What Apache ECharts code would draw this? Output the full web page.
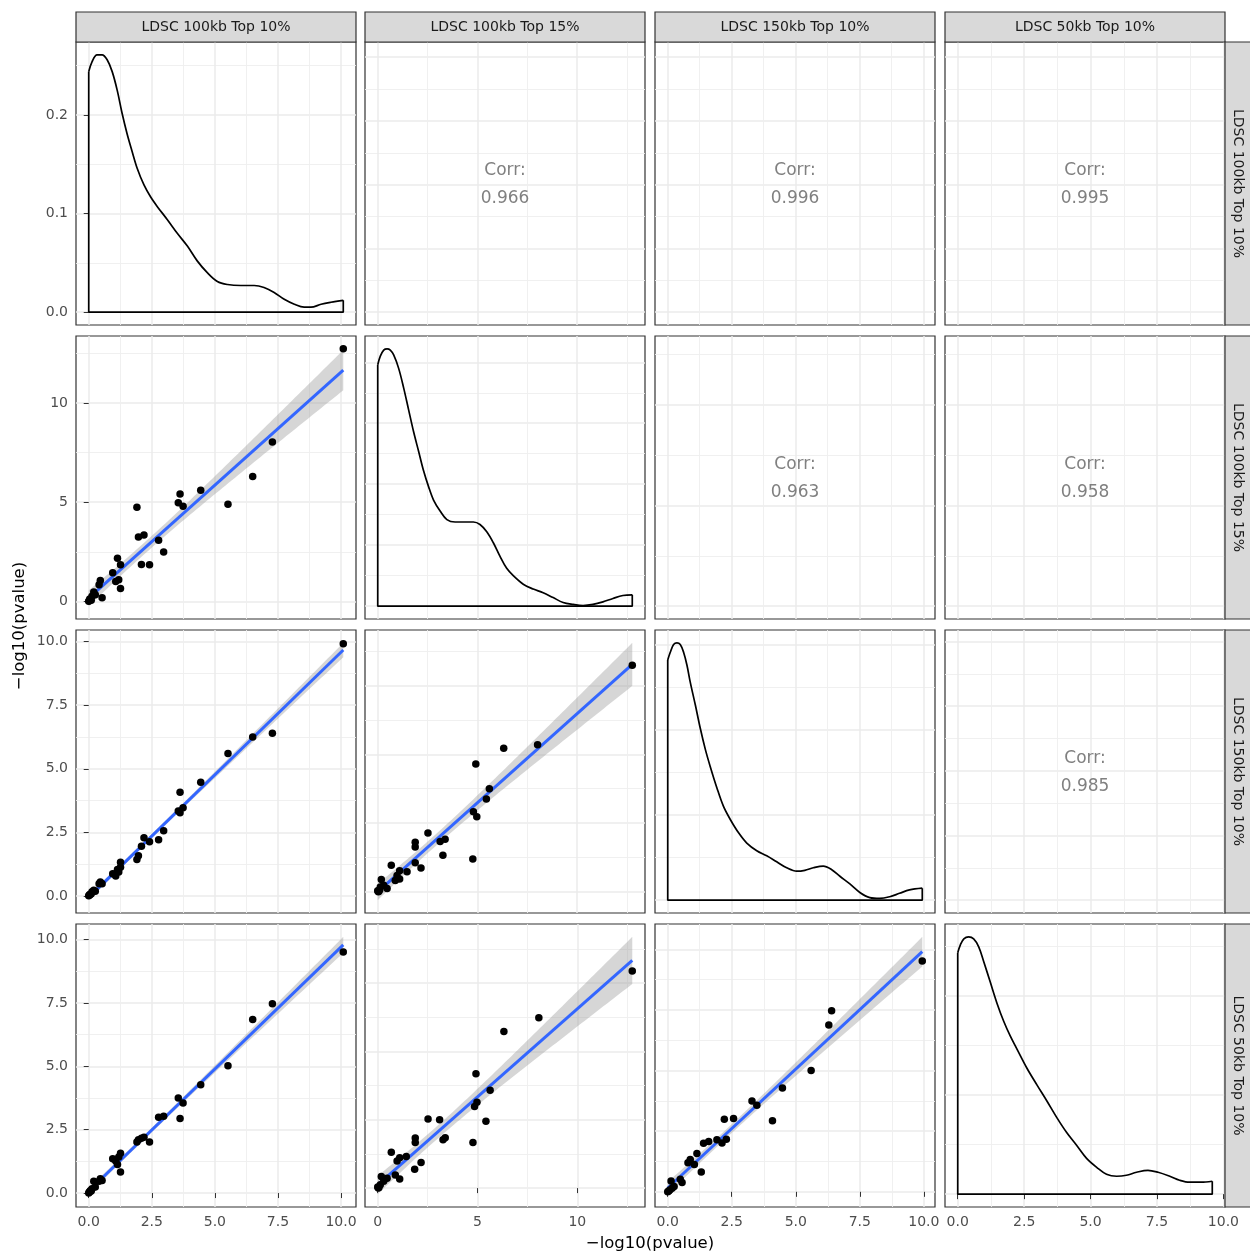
<!DOCTYPE html>
<html><head><meta charset="utf-8">
<script src="https://cdn.jsdelivr.net/npm/echarts@6.0.0/dist/echarts.min.js"></script>
<style>html,body{margin:0;padding:0;background:#fff}#chart{width:1250px;height:1254px}</style>
</head><body><div id="chart"></div>
<script>
// ---------------- data ----------------
const varNames = ['LDSC 100kb Top 10%', 'LDSC 100kb Top 15%', 'LDSC 150kb Top 10%', 'LDSC 50kb Top 10%'];
const varMax = [10.09, 12.77, 9.95, 9.58];
const corrValues = ['0.966', '0.996', '0.995', '0.963', '0.958', '0.985']; // upper triangle, row by row
const axisTitle = '\u2212log10(pvalue)';

// scatter panels: pts_<yVar>_<xVar>
const pts_B_A = [[10.09,12.74],[7.28,8.04],[6.50,6.30],[5.52,4.90],[4.44,5.60],[3.62,5.42],[3.55,4.97],[3.74,4.80],[1.91,4.75],[1.97,3.24],[2.19,3.34],[2.77,3.08],[2.97,2.49],[2.09,1.86],[2.41,1.84],[1.14,2.17],[1.26,1.84],[0.95,1.44],[1.07,1.00],[1.19,1.09],[1.26,0.65],[0.46,1.05],[0.41,0.84],[0.53,0.18],[0.20,0.47],[0.13,0.25],[0.26,0.33],[0.07,0.08],[0.02,0.03],[0.00,0.00],[0.04,0.12],[0.10,0.05]];
const pts_C_A = [[10.09,9.92],[7.28,6.40],[6.50,6.25],[5.52,5.60],[4.44,4.47],[3.62,4.08],[3.74,3.47],[3.62,3.27],[3.55,3.34],[2.97,2.56],[2.77,2.21],[2.41,2.13],[2.19,2.29],[2.09,1.95],[1.97,1.58],[1.91,1.43],[1.26,1.32],[1.26,1.13],[1.14,1.04],[1.07,0.87],[1.19,0.94],[0.95,0.87],[1.07,0.78],[0.46,0.55],[0.41,0.48],[0.53,0.48],[0.20,0.22],[0.13,0.16],[0.26,0.18],[0.07,0.06],[0.02,0.02],[0.00,0.00],[0.04,0.05],[0.10,0.08]];
const pts_D_A = [[10.09,9.51],[7.28,7.47],[6.50,6.85],[5.52,5.02],[4.44,4.27],[3.55,3.75],[3.74,3.55],[3.62,2.94],[2.97,3.03],[2.77,2.99],[2.41,2.01],[2.19,2.20],[2.09,2.16],[1.97,2.10],[1.91,2.01],[1.26,1.57],[1.14,1.13],[1.07,1.26],[0.95,1.35],[1.26,0.83],[1.19,1.42],[0.46,0.56],[0.41,0.47],[0.53,0.50],[0.20,0.47],[0.13,0.17],[0.26,0.24],[0.07,0.10],[0.02,0.03],[0.00,0.00],[0.04,0.06],[0.10,0.08]];
const pts_C_B = [[12.77,8.24],[8.02,5.35],[6.32,5.22],[4.92,4.65],[5.60,3.75],[5.45,3.38],[4.80,2.91],[4.97,2.73],[4.77,1.19],[3.38,1.91],[3.13,1.83],[2.52,2.14],[3.27,1.33],[1.88,1.80],[1.88,1.63],[2.17,0.87],[1.88,1.06],[1.47,0.73],[1.10,0.77],[0.68,0.97],[0.97,0.59],[0.88,0.41],[1.10,0.47],[0.18,0.45],[0.47,0.12],[0.13,0.18],[0.30,0.24],[0.03,0.00],[0.00,0.04],[0.06,0.02],[0.10,0.08]];
const pts_D_B = [[12.75,7.95],[8.07,6.24],[6.32,5.73],[4.92,4.19],[5.63,3.58],[4.97,3.14],[4.85,2.99],[5.42,2.45],[4.77,1.67],[2.52,2.53],[3.10,2.50],[3.38,1.84],[3.27,1.77],[1.88,1.83],[1.88,1.67],[2.17,0.94],[1.85,0.69],[0.68,1.31],[1.10,1.11],[0.97,0.99],[1.43,1.16],[0.88,0.48],[1.10,0.33],[0.18,0.42],[0.47,0.36],[0.13,0.12],[0.03,0.00],[0.00,0.04],[0.06,0.02],[0.30,0.25]];
const pts_D_C = [[9.94,9.52],[6.40,7.47],[6.29,6.88],[5.60,5.01],[4.48,4.28],[3.29,3.75],[3.48,3.57],[4.09,2.93],[2.21,2.99],[2.57,3.03],[2.29,2.17],[2.12,2.01],[1.92,2.15],[1.60,2.08],[1.40,2.00],[1.14,1.58],[0.88,1.33],[0.79,1.20],[1.04,1.13],[1.31,0.82],[0.49,0.52],[0.56,0.38],[0.13,0.45],[0.17,0.15],[0.00,0.00],[0.08,0.08],[0.04,0.03],[0.25,0.22]];

// density curves [x, density]
const dens_A = [[0,0.244],[0.13,0.254],[0.33,0.261],[0.53,0.261],[0.73,0.256],[0.93,0.244],[1.13,0.225],[1.32,0.202],[1.52,0.181],[1.72,0.163],[1.92,0.146],[2.19,0.129],[2.45,0.117],[2.72,0.107],[3.11,0.094],[3.51,0.080],[3.91,0.067],[4.30,0.052],[4.70,0.040],[5.10,0.031],[5.50,0.028],[6.03,0.027],[6.56,0.027],[6.95,0.025],[7.35,0.020],[7.75,0.013],[8.15,0.008],[8.54,0.005],[8.81,0.005],[9.21,0.008],[9.60,0.010],[10.09,0.012]];
const dens_B = [[0,0.198],[0.13,0.205],[0.30,0.210],[0.47,0.211],[0.63,0.210],[0.80,0.206],[1.05,0.195],[1.30,0.179],[1.55,0.161],[1.80,0.143],[2.05,0.127],[2.30,0.111],[2.55,0.098],[2.80,0.087],[3.13,0.078],[3.47,0.071],[3.88,0.069],[4.30,0.069],[4.80,0.069],[5.13,0.067],[5.47,0.061],[5.80,0.052],[6.13,0.041],[6.47,0.031],[6.80,0.025],[7.30,0.018],[7.80,0.014],[8.30,0.011],[8.80,0.007],[9.30,0.003],[9.80,0.0014],[10.30,0.0005],[10.80,0.0014],[11.30,0.0035],[11.80,0.0063],[12.30,0.0087],[12.77,0.0093]];
const dens_C = [[0,0.282],[0.10,0.291],[0.23,0.300],[0.36,0.302],[0.49,0.300],[0.62,0.291],[0.75,0.276],[0.88,0.256],[1.08,0.229],[1.27,0.202],[1.47,0.177],[1.66,0.157],[1.92,0.132],[2.18,0.110],[2.44,0.095],[2.77,0.079],[3.09,0.067],[3.48,0.058],[3.87,0.052],[4.26,0.045],[4.65,0.038],[5.04,0.034],[5.36,0.035],[5.69,0.038],[6.08,0.040],[6.40,0.036],[6.73,0.028],[7.12,0.019],[7.51,0.009],[7.90,0.003],[8.29,0.002],[8.68,0.004],[9.06,0.008],[9.45,0.012],[9.95,0.014]];
const dens_D = [[0,0.243],[0.10,0.251],[0.23,0.257],[0.41,0.259],[0.60,0.257],[0.79,0.249],[0.98,0.234],[1.23,0.213],[1.48,0.192],[1.73,0.174],[1.98,0.159],[2.23,0.146],[2.60,0.127],[2.98,0.110],[3.35,0.094],[3.73,0.077],[4.10,0.062],[4.48,0.049],[4.85,0.036],[5.23,0.027],[5.60,0.020],[5.98,0.018],[6.35,0.019],[6.73,0.022],[7.16,0.024],[7.54,0.022],[7.98,0.018],[8.35,0.014],[8.73,0.012],[9.16,0.012],[9.58,0.013]];

const varStep = [2.5, 5, 2.5, 2.5];
const varDec = [1, 0, 1, 1];
const densStep = [0.1, 0.05, 0.1, 0.1];

// ---------------- layout / style ----------------
const FONT = '"DejaVu Sans", "Liberation Sans", Arial, sans-serif';
const panelLeft = [76, 365, 655, 945];
const panelTop = [42, 336, 630, 924];
const PW = 280, PH = 283;

const scatterData = {'1_0': pts_B_A, '2_0': pts_C_A, '3_0': pts_D_A, '2_1': pts_C_B, '3_1': pts_D_B, '3_2': pts_D_C};
const densData = [dens_A, dens_B, dens_C, dens_D];

function majors(lo, hi, step) {
  const out = [];
  for (let k = Math.ceil(lo / step - 1e-9); k * step <= hi + 1e-9; k++) out.push(Math.round(k * step * 1e6) / 1e6);
  return out;
}
function minors(lo, hi, step) {
  const out = [];
  for (let k = Math.floor(lo / step) - 1; (k + 0.5) * step <= hi + 1e-9; k++) {
    const v = Math.round((k + 0.5) * step * 1e6) / 1e6;
    if (v >= lo && v <= hi) out.push(v);
  }
  return out;
}
function padRange(lo, hi) { const d = (hi - lo) * 0.05; return [lo - d, hi + d]; }
function tq975(df) { const z = 1.959964; return z + (z ** 3 + z) / (4 * df) + (5 * z ** 5 + 16 * z ** 3 + 3 * z) / (96 * df * df); }
function lmFit(pts) {
  const n = pts.length;
  let sx = 0, sy = 0; pts.forEach(p => { sx += p[0]; sy += p[1]; });
  const xb = sx / n, yb = sy / n;
  let sxx = 0, sxy = 0; pts.forEach(p => { sxx += (p[0] - xb) ** 2; sxy += (p[0] - xb) * (p[1] - yb); });
  const b = sxy / sxx, a = yb - b * xb;
  let sse = 0; pts.forEach(p => { sse += (p[1] - a - b * p[0]) ** 2; });
  const s = Math.sqrt(sse / (n - 2)), t = tq975(n - 2);
  const xs = pts.map(p => p[0]);
  const xmin = Math.min(...xs), xmax = Math.max(...xs);
  const N = 80, upper = [], lower = [];
  for (let i = 0; i <= N; i++) {
    const x = xmin + (xmax - xmin) * i / N;
    const yh = a + b * x;
    const se = s * Math.sqrt(1 / n + (x - xb) ** 2 / sxx);
    upper.push([x, yh + t * se]); lower.push([x, yh - t * se]);
  }
  return { line: [[xmin, a + b * xmin], [xmax, a + b * xmax]], band: upper.concat(lower.slice().reverse()), upper, lower, xmin, xmax };
}

const grids = [], xAxes = [], yAxes = [], series = [], graphics = [];
const labelStyle = { color: '#4D4D4D', fontSize: 14, fontFamily: FONT };
const majorGrid = { color: '#EBEBEB', width: 1.5 };
const minorGrid = { color: '#EEEEEE', width: 0.9 };

function addAxes(g, r, c, xr, yr, xStep, yStep, xDec, yDec) {
  const xMaj = majors(xr[0], xr[1], xStep), xMin = minors(xr[0], xr[1], xStep);
  const yMaj = majors(yr[0], yr[1], yStep), yMin = minors(yr[0], yr[1], yStep);
  xAxes.push({ type: 'value', gridIndex: g, min: xr[0], max: xr[1], position: 'bottom',
    axisLine: { show: false },
    axisTick: { show: r === 3, length: 5, lineStyle: { color: '#333333', width: 1 }, customValues: xMaj },
    axisLabel: Object.assign({ show: r === 3, customValues: xMaj, margin: 8, formatter: v => (+v).toFixed(xDec) }, labelStyle),
    splitLine: { show: true, lineStyle: majorGrid } });
  xAxes.push({ type: 'value', gridIndex: g, min: xr[0], max: xr[1], position: 'bottom',
    axisLine: { show: false }, axisTick: { show: false, customValues: xMin }, axisLabel: { show: false, customValues: xMin },
    splitLine: { show: true, lineStyle: minorGrid } });
  yAxes.push({ type: 'value', gridIndex: g, min: yr[0], max: yr[1], position: 'left',
    axisLine: { show: false },
    axisTick: { show: c === 0, length: 5, lineStyle: { color: '#333333', width: 1 }, customValues: yMaj },
    axisLabel: Object.assign({ show: c === 0, customValues: yMaj, margin: 8, formatter: v => (+v).toFixed(yDec) }, labelStyle),
    splitLine: { show: true, lineStyle: majorGrid } });
  yAxes.push({ type: 'value', gridIndex: g, min: yr[0], max: yr[1], position: 'left',
    axisLine: { show: false }, axisTick: { show: false, customValues: yMin }, axisLabel: { show: false, customValues: yMin },
    splitLine: { show: true, lineStyle: minorGrid } });
}

let corrIdx = 0;
for (let r = 0; r < 4; r++) {
  for (let c = 0; c < 4; c++) {
    const g = r * 4 + c;
    grids.push({ left: panelLeft[c], top: panelTop[r], width: PW, height: PH, show: true,
      borderColor: '#333333', borderWidth: 1.2, backgroundColor: '#FFFFFF' });
    const xi = 2 * g, yi = 2 * g;
    if (r === c) {
      const d = densData[r];
      const x0 = d[0][0], xn = d[d.length - 1][0];
      const dmax = Math.max(...d.map(p => p[1]));
      addAxes(g, r, c, padRange(x0, xn), padRange(0, dmax), varStep[c], densStep[r], varDec[c], 1);
      series.push({ type: 'line', xAxisIndex: xi, yAxisIndex: yi, data: [d[d.length - 1], [xn, 0], [x0, 0], d[0]],
        showSymbol: false, silent: true, lineStyle: { color: '#000000', width: 1.7 }, z: 3 });
      series.push({ type: 'line', xAxisIndex: xi, yAxisIndex: yi, data: d, smooth: 0.35,
        showSymbol: false, silent: true, lineStyle: { color: '#000000', width: 1.7 }, z: 3 });
    } else if (r > c) {
      const pts = scatterData[r + '_' + c];
      const fit = lmFit(pts);
      const xs = pts.map(p => p[0]);
      const ys = pts.map(p => p[1]).concat(fit.upper.map(p => p[1]), fit.lower.map(p => p[1]));
      addAxes(g, r, c, padRange(Math.min(...xs), Math.max(...xs)), padRange(Math.min(...ys), Math.max(...ys)),
        varStep[c], varStep[r], varDec[c], varDec[r]);
      series.push({ type: 'scatter', xAxisIndex: xi, yAxisIndex: yi, data: pts, symbolSize: 7.5,
        itemStyle: { color: '#000000', opacity: 1 }, silent: true, z: 2 });
      const band = fit.band;
      series.push({ type: 'custom', xAxisIndex: xi, yAxisIndex: yi, coordinateSystem: 'cartesian2d',
        data: [band[0]], silent: true, z: 2,
        renderItem: (params, api) => ({ type: 'polygon', shape: { points: band.map(p => api.coord(p)) },
          style: { fill: 'rgba(153,153,153,0.4)', stroke: null } }) });
      series.push({ type: 'line', xAxisIndex: xi, yAxisIndex: yi, data: fit.line, showSymbol: false, silent: true,
        lineStyle: { color: '#3366FF', width: 3 }, z: 2 });
    } else {
      addAxes(g, r, c, padRange(0, varMax[c]), padRange(0, varMax[r]), varStep[c], varStep[r], varDec[c], varDec[r]);
      const cx = panelLeft[c] + PW / 2, cy = panelTop[r] + PH / 2;
      graphics.push({ type: 'text', x: cx, y: cy - 13, z: 10,
        style: { text: 'Corr:', fill: '#808080', font: '17px ' + FONT, align: 'center', verticalAlign: 'middle' } });
      graphics.push({ type: 'text', x: cx, y: cy + 15, z: 10,
        style: { text: corrValues[corrIdx], fill: '#808080', font: '17px ' + FONT, align: 'center', verticalAlign: 'middle' } });
      corrIdx++;
    }
  }
}

// strips
for (let c = 0; c < 4; c++) {
  graphics.push({ type: 'rect', shape: { x: panelLeft[c], y: 12, width: PW, height: 30 }, z: 5,
    style: { fill: '#D9D9D9', stroke: '#333333', lineWidth: 1.2 } });
  graphics.push({ type: 'text', x: panelLeft[c] + PW / 2, y: 27.5, z: 6,
    style: { text: varNames[c], fill: '#1A1A1A', font: '14px ' + FONT, align: 'center', verticalAlign: 'middle' } });
}
for (let r = 0; r < 4; r++) {
  graphics.push({ type: 'rect', shape: { x: 1225, y: panelTop[r], width: 30, height: PH }, z: 5,
    style: { fill: '#D9D9D9', stroke: '#333333', lineWidth: 1.2 } });
  graphics.push({ type: 'text', x: 1238, y: panelTop[r] + PH / 2, rotation: -Math.PI / 2, z: 6,
    style: { text: varNames[r], fill: '#1A1A1A', font: '14px ' + FONT, align: 'center', verticalAlign: 'middle' } });
}
graphics.push({ type: 'text', x: 650, y: 1244, z: 6,
  style: { text: axisTitle, fill: '#000000', font: '16.5px ' + FONT, align: 'center', verticalAlign: 'middle' } });
graphics.push({ type: 'text', x: 20, y: 626, rotation: Math.PI / 2, z: 6,
  style: { text: axisTitle, fill: '#000000', font: '16.5px ' + FONT, align: 'center', verticalAlign: 'middle' } });

const chart = echarts.init(document.getElementById('chart'), null, { renderer: 'canvas' });
chart.setOption({
  animation: false,
  backgroundColor: '#FFFFFF',
  grid: grids, xAxis: xAxes, yAxis: yAxes, series: series, graphic: graphics
});
</script>
</body></html>
